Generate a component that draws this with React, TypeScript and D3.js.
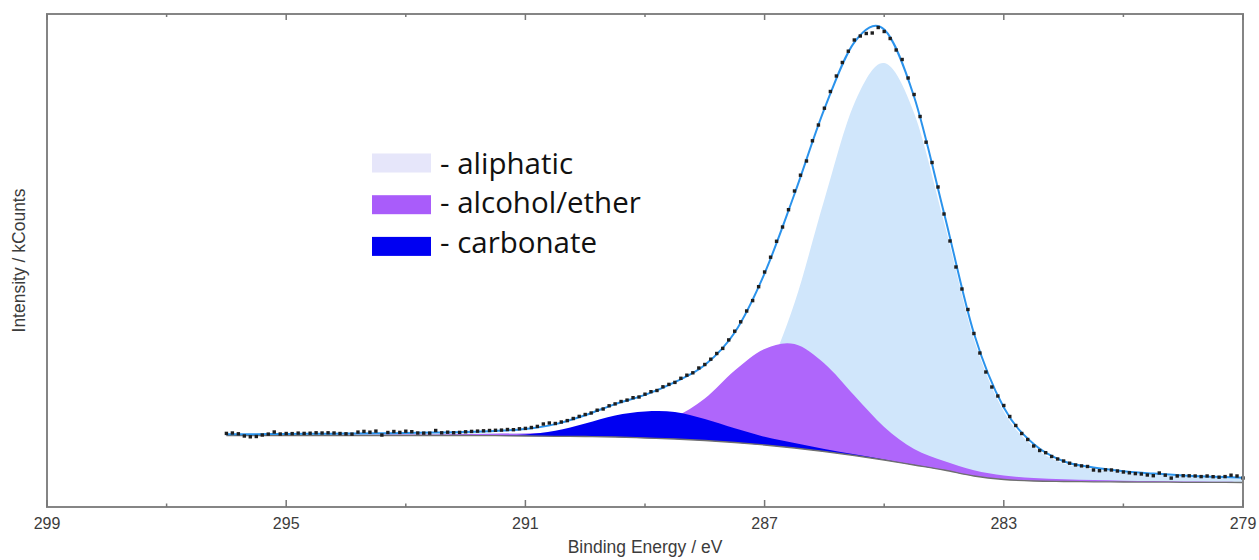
import React from "react";
import * as d3 from "d3";

// C 1s region: peak-fit components sampled on a 0.5 eV grid (kCounts)
const fitEnergy = [
  296, 295.5, 295, 294.5, 294, 293.5, 293, 292.5, 292, 291.5, 291, 290.5,
  290, 289.5, 289, 288.5, 288, 287.5, 287, 286.5, 286, 285.5, 285, 284.5,
  284, 283.5, 283, 282.5, 282, 281.5, 281, 280.5, 280, 279.5, 279,
];

const backgroundCounts = [
  7.15, 7.15, 7.15, 7.15, 7.15, 7.15, 7.15, 7.15, 7.15, 7.13, 7.1, 7.07,
  7.05, 7.0, 6.9, 6.8, 6.65, 6.45, 6.2, 5.9, 5.55, 5.15, 4.7, 4.2,
  3.7, 3.1, 2.75, 2.6, 2.55, 2.52, 2.5, 2.49, 2.47, 2.46, 2.45,
];

const aliphaticCounts = [
  0.08, 0.08, 0.1, 0.12, 0.12, 0.14, 0.16, 0.18, 0.2, 0.24, 0.28, 0.32,
  0.36, 0.44, 0.56, 0.79, 1.19, 2.38, 6.75, 14.5, 25.2, 35.2, 39.7, 35.2,
  24.8, 13.7, 6.8, 3.4, 1.8, 1.25, 0.95, 0.75, 0.6, 0.5, 0.42,
];

const alcoholEtherCounts = [
  0.04, 0.05, 0.05, 0.06, 0.07, 0.08, 0.09, 0.11, 0.14, 0.19, 0.26, 0.35,
  0.47, 0.7, 1.1, 2.2, 4.2, 7.2, 9.6, 10.4, 8.8, 6.0, 3.3, 1.6,
  0.9, 0.58, 0.4, 0.3, 0.22, 0.17, 0.13, 0.1, 0.08, 0.07, 0.06,
];

const carbonateCounts = [
  0, 0, 0, 0, 0, 0, 0, 0, 0.01, 0.05, 0.16, 0.55,
  1.3, 2.15, 2.65, 2.7, 2.15, 1.42, 0.82, 0.5, 0.26, 0.12, 0.05, 0.02,
  0.01, 0, 0, 0, 0, 0, 0, 0, 0, 0, 0,
];

// Measured spectrum: 0.1 eV steps starting at 296.0 eV (kCounts)
const scanStart = 296.0;
const scanStep = 0.1;
const measuredCounts = [
  7.36, 7.4, 7.32, 7.1, 7.02, 7.05, 7.2, 7.29, 7.5, 7.3,
  7.35, 7.34, 7.39, 7.36, 7.38, 7.42, 7.4, 7.42, 7.4, 7.35,
  7.32, 7.29, 7.49, 7.56, 7.48, 7.59, 7.2, 7.45, 7.55, 7.46,
  7.58, 7.53, 7.4, 7.39, 7.39, 7.65, 7.42, 7.48, 7.43, 7.46,
  7.52, 7.56, 7.59, 7.62, 7.65, 7.67, 7.69, 7.75, 7.73, 7.82,
  7.86, 7.95, 8.06, 8.3, 8.4, 8.35, 8.5, 8.64, 8.85, 9.06,
  9.25, 9.4, 9.68, 9.8, 10.12, 10.31, 10.55, 10.69, 10.93, 11.0,
  11.28, 11.53, 11.65, 12.02, 12.26, 12.46, 12.87, 13.18, 13.42, 13.9,
  14.25, 14.78, 15.35, 15.86, 16.71, 17.58, 18.52, 19.6, 20.64, 22.03,
  23.5, 24.98, 26.57, 28.0, 29.73, 31.6, 33.18, 34.6, 36.62, 38.2,
  39.88, 41.55, 43.1, 44.45, 45.58, 46.7, 47.1, 47.35, 47.4, 47.95,
  47.55, 46.85, 45.7, 44.75, 42.9, 41.25, 39.05, 36.48, 34.45, 32.0,
  29.3, 26.6, 24.0, 21.8, 19.75, 17.35, 15.4, 13.5, 12.0, 11.1,
  10.15, 9.05, 8.15, 7.35, 6.75, 6.1, 5.65, 5.43, 5.05, 4.8,
  4.6, 4.38, 4.2, 4.11, 4.05, 3.7, 3.63, 3.72, 3.7, 3.6,
  3.5, 3.42, 3.34, 3.3, 3.2, 3.13, 3.4, 3.18, 2.89, 3.1,
  3.13, 3.12, 3.1, 3.04, 3.1, 3.03, 2.98, 3.04, 3.18, 3.1,
  2.9,
];

const majorTicks = [299, 295, 291, 287, 283, 279];
const minorTicks = [297, 293, 289, 285, 281];

const legendLabels = ["- aliphatic", "- alcohol/ether", "- carbonate"];
const legendSwatches = ["#e6e6fa", "#a95cfa", "#0000f2"];

const W = 1259;
const H = 560;
const frame = { left: 47, right: 1243, top: 14, bottom: 507 };
const axisFont = "'Liberation Sans', Arial, sans-serif";

export default function App() {
  const x = d3.scaleLinear().domain([299, 279]).range([frame.left, frame.right]);
  const y = d3.scaleLinear().domain([0, 49.3]).range([frame.bottom, frame.top]);
  const curve = d3.curveCatmullRom.alpha(0);

  const componentArea = (values: number[]) =>
    d3
      .area<number>()
      .x((_, i) => x(fitEnergy[i]))
      .y0((_, i) => y(backgroundCounts[i]))
      .y1((d, i) => y(backgroundCounts[i] + d))
      .curve(curve)(values) ?? "";

  const components = [
    { key: "aliphatic", values: aliphaticCounts, fill: "#d0e6fb" },
    { key: "alcohol-ether", values: alcoholEtherCounts, fill: "#af66fb" },
    { key: "carbonate", values: carbonateCounts, fill: "#0000f2" },
  ];

  const envelope = fitEnergy.map(
    (_, i) =>
      backgroundCounts[i] + aliphaticCounts[i] + alcoholEtherCounts[i] + carbonateCounts[i]
  );

  const line = d3
    .line<number>()
    .x((_, i) => x(fitEnergy[i]))
    .y((d) => y(d))
    .curve(curve);

  const measured = measuredCounts.map((c, i) => ({
    e: scanStart - i * scanStep,
    c,
  }));

  return (
    <div style={{ position: "absolute", left: 0, top: 0 }}>
      <svg width={W} height={H} style={{ display: "block", background: "#fff" }}>
        {components.map((c) => (
          <path key={c.key} d={componentArea(c.values)} fill={c.fill} />
        ))}

        <path d={line(backgroundCounts) ?? ""} fill="none" stroke="#6f6f6f" strokeWidth={1.3} />
        <path d={line(envelope) ?? ""} fill="none" stroke="#2b93ec" strokeWidth={2} />

        {measured.map((p, i) => (
          <rect
            key={i}
            x={x(p.e) - 1.7}
            y={y(p.c) - 1.7}
            width={3.4}
            height={3.4}
            fill="#1e1e1e"
          />
        ))}

        {/* frame and ticks */}
        <rect
          x={frame.left}
          y={frame.top}
          width={frame.right - frame.left}
          height={frame.bottom - frame.top}
          fill="none"
          stroke="#858585"
          strokeWidth={2}
        />
        {majorTicks.map((t) => (
          <g key={`M${t}`} stroke="#777" strokeWidth={1.5}>
            <line x1={x(t)} x2={x(t)} y1={frame.bottom} y2={frame.bottom - 7} />
            <line x1={x(t)} x2={x(t)} y1={frame.top} y2={frame.top + 6} />
          </g>
        ))}
        {minorTicks.map((t) => (
          <g key={`m${t}`} stroke="#777" strokeWidth={1.5}>
            <line x1={x(t)} x2={x(t)} y1={frame.bottom} y2={frame.bottom - 3.5} />
            <line x1={x(t)} x2={x(t)} y1={frame.top} y2={frame.top + 3} />
          </g>
        ))}
        {majorTicks.map((t) => (
          <text
            key={`L${t}`}
            x={x(t)}
            y={529}
            textAnchor="middle"
            fontFamily={axisFont}
            fontSize={16}
            fill="#3c3c3c"
          >
            {t}
          </text>
        ))}

        <text
          x={(frame.left + frame.right) / 2}
          y={553}
          textAnchor="middle"
          fontFamily={axisFont}
          fontSize={17.5}
          fill="#3c3c3c"
        >
          Binding Energy / eV
        </text>
        <text
          transform={`translate(25, ${(frame.top + frame.bottom) / 2}) rotate(-90)`}
          textAnchor="middle"
          fontFamily={axisFont}
          fontSize={17.5}
          fill="#3c3c3c"
        >
          Intensity / kCounts
        </text>

        {/* legend */}
        {legendLabels.map((label, i) => (
          <g key={label}>
            <rect x={372} y={153.5 + 41.7 * i} width={59} height={19} fill={legendSwatches[i]} />
            <text
              x={440}
              y={173.5 + 39.5 * i}
              fontFamily="'Open Sans', 'Noto Sans', sans-serif"
              fontSize={29.5}
              fill="#111"
            >
              {label}
            </text>
          </g>
        ))}
      </svg>
    </div>
  );
}
